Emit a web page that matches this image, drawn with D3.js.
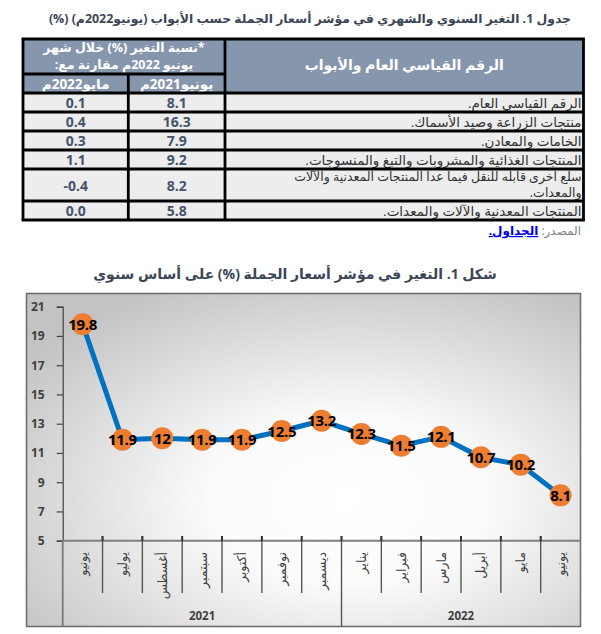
<!DOCTYPE html>
<html><head><meta charset="utf-8">
<script src="https://cdn.jsdelivr.net/npm/d3@7"></script>
<style>
html,body{margin:0;padding:0;background:#fff;}
svg{display:block;font-family:"Open Sans","DejaVu Sans",sans-serif;}
</style></head>
<body>
<script>
// ---------- DATA ----------
const tableTitle = "جدول 1. التغير السنوي والشهري في مؤشر أسعار الجملة حسب الأبواب (يونيو2022م) (%)";
const headerMain = "الرقم القياسي العام والأبواب";
const headerChange = ["*نسبة التغير (%) خلال شهر", "يونيو 2022م مقارنة مع:"];
const headerCols = ["يونيو2021م", "مايو2022م"];
const rowLabels = [
  ["الرقم القياسي العام."],
  ["منتجات الزراعة وصيد الأسماك."],
  ["الخامات والمعادن."],
  ["المنتجات الغذائية والمشروبات والتبغ والمنسوجات."],
  ["سلع اخرى قابله للنقل فيما عدا المنتجات المعدنية والآلات", "والمعدات."],
  ["المنتجات المعدنية والآلات والمعدات."]
];
const vsJun2021 = ["8.1", "16.3", "7.9", "9.2", "8.2", "5.8"];
const vsMay2022 = ["0.1", "0.4", "0.3", "1.1", "-0.4", "0.0"];
const sourceLabel = "المصدر:";
const sourceLink = "الجداول.";

const chartTitle = "شكل 1. التغير في مؤشر أسعار الجملة (%) على أساس سنوي";
const months = ["يونيو","يوليو","أغسطس","سبتمبر","أكتوبر","نوفمبر","ديسمبر","يناير","فبراير","مارس","أبريل","مايو","يونيو"];
const values = [19.8, 11.9, 12, 11.9, 11.9, 12.5, 13.2, 12.3, 11.5, 12.1, 10.7, 10.2, 8.1];
const years = ["2021", "2022"];
const yearCounts = [7, 6];
const yTicks = [5, 7, 9, 11, 13, 15, 17, 19, 21];

// ---------- DRAW ----------
const W = 601, H = 634;
const svg = d3.select("body").append("svg").attr("width", W).attr("height", H);
const titleColor = "#3b4657";

// Table title
svg.append("text").attr("x", 571).attr("y", 23).attr("direction", "rtl")
  .attr("text-anchor", "start").attr("font-size", 12.4).attr("font-weight", "bold")
  .attr("fill", titleColor).text(tableTitle);

// Table geometry
const tL = 23, tR = 583.5, cA = 128.3, cB = 225;
const tTop = 39, h1 = 74, h2 = 93;
const lineH = 19, extraLine = 13;
const rowTops = [];
let yy = h2;
rowLabels.forEach(r => { rowTops.push(yy); yy += lineH + (r.length - 1) * extraLine; });
const tBot = yy;

const tg = svg.append("g");
tg.append("rect").attr("x", tL).attr("y", tTop).attr("width", tR - tL).attr("height", h2 - tTop).attr("fill", "#8696ad");
tg.append("rect").attr("x", tL).attr("y", h2).attr("width", tR - tL).attr("height", tBot - h2).attr("fill", "#ededed");

// header text
tg.append("text").attr("x", (cB + tR) / 2).attr("y", 70).attr("text-anchor", "middle").attr("direction", "rtl")
  .attr("font-size", 14).attr("font-weight", "bold").attr("fill", "#fff").text(headerMain);
headerChange.forEach((t, i) => {
  tg.append("text").attr("x", (tL + cB) / 2).attr("y", 51.5 + i * 17).attr("text-anchor", "middle").attr("direction", "rtl")
    .attr("font-size", 12.5).attr("font-weight", "bold").attr("fill", "#fff").text(t);
});
[[cA, cB], [tL, cA]].forEach((c, i) => {
  tg.append("text").attr("x", (c[0] + c[1]) / 2).attr("y", 88.5).attr("text-anchor", "middle").attr("direction", "rtl")
    .attr("font-size", 13.5).attr("font-weight", "bold").attr("fill", "#fff").text(headerCols[i]);
});

// body rows
rowLabels.forEach((lines, i) => {
  const top = rowTops[i];
  const hgt = lineH + (lines.length - 1) * extraLine;
  lines.forEach((t, j) => {
    tg.append("text").attr("x", tR - 2).attr("y", top + (lines.length > 1 ? 12 : 14.5) + j * 16).attr("direction", "rtl")
      .attr("text-anchor", "start").attr("font-size", lines.length > 1 ? 12.5 : 13.5).attr("fill", "#333").text(t);
  });
  tg.append("text").attr("x", (cA + cB) / 2).attr("y", top + hgt / 2 + 5.5).attr("text-anchor", "middle")
    .attr("font-size", 14).attr("font-weight", "bold").attr("fill", "#44546a").text(vsJun2021[i]);
  tg.append("text").attr("x", (tL + cA) / 2).attr("y", top + hgt / 2 + 5.5).attr("text-anchor", "middle")
    .attr("font-size", 14).attr("font-weight", "bold").attr("fill", "#44546a").text(vsMay2022[i]);
});

// table borders
const bw = 2.8;
const hl = (x1, x2, y) => tg.append("line").attr("x1", x1).attr("x2", x2).attr("y1", y).attr("y2", y).attr("stroke", "#000").attr("stroke-width", bw);
const vl = (x, y1, y2) => tg.append("line").attr("x1", x).attr("x2", x).attr("y1", y1).attr("y2", y2).attr("stroke", "#000").attr("stroke-width", bw);
hl(tL - bw / 2, tR + bw / 2, tTop);
hl(tL, cB, h1);
hl(tL, tR, h2);
rowTops.slice(1).forEach(t => hl(tL, tR, t));
hl(tL - bw / 2, tR + bw / 2, tBot);
vl(tL, tTop, tBot); vl(tR, tTop, tBot); vl(cB, tTop, tBot); vl(cA, h1, tBot);

// source
const src = svg.append("text").attr("x", 581).attr("y", 235).attr("direction", "rtl").attr("text-anchor", "start")
  .attr("font-size", 12);
src.append("tspan").attr("fill", "#7f7f7f").text(sourceLabel + " ");
src.append("tspan").attr("fill", "#0000ee").attr("font-weight", "bold").attr("text-decoration", "underline").text(sourceLink);

// Chart title
svg.append("text").attr("x", 295).attr("y", 279).attr("text-anchor", "middle").attr("direction", "rtl")
  .attr("font-size", 14).attr("font-weight", "bold").attr("fill", titleColor).text(chartTitle);

// Chart box with gradient
const defs = svg.append("defs");
const grad = defs.append("radialGradient").attr("id", "bg").attr("cx", 0.58).attr("cy", 0.62).attr("r", 0.72);
grad.append("stop").attr("offset", "0%").attr("stop-color", "#ffffff");
grad.append("stop").attr("offset", "35%").attr("stop-color", "#fbfbfb");
grad.append("stop").attr("offset", "100%").attr("stop-color", "#c3c3c3");
const bx0 = 26.5, by0 = 293.5, bx1 = 580.5, by1 = 626.5;
svg.append("rect").attr("x", bx0).attr("y", by0).attr("width", bx1 - bx0).attr("height", by1 - by0)
  .attr("fill", "url(#bg)").attr("stroke", "#6f6f6f").attr("stroke-width", 1.6);

// scales
const x = d3.scaleBand().domain(d3.range(months.length)).range([62.7, 580.5]);
const y = d3.scaleLinear().domain([5, 21]).range([540.7, 306.7]);

// y axis
const yAxis = d3.axisLeft(y).tickValues(yTicks).tickSize(6).tickPadding(12).tickFormat(d3.format("d"));
const gy = svg.append("g").attr("transform", "translate(62.7,0)").call(yAxis);
gy.select(".domain").attr("stroke", "#404040").attr("stroke-width", 1.2);
gy.selectAll(".tick line").attr("stroke", "#404040").attr("stroke-width", 1.2);
gy.selectAll(".tick text").attr("font-size", 12).attr("font-weight", "bold").attr("fill", "#404040")
  .attr("font-family", "'Open Sans',sans-serif");
svg.append("line").attr("x1", 62.7).attr("x2", 62.7).attr("y1", 540.7).attr("y2", by1)
  .attr("stroke", "#7a7a7a").attr("stroke-width", 1.8);

// x axis line
svg.append("line").attr("x1", 62.7).attr("x2", bx1).attr("y1", 540.7).attr("y2", 540.7)
  .attr("stroke", "#808080").attr("stroke-width", 2);
// category separators
const bwid = x.bandwidth();
let acc = 0; const groupEdges = [];
yearCounts.forEach(c => { acc += c; groupEdges.push(acc); });
d3.range(1, months.length).forEach(k => {
  const xx = x.range()[0] + k * bwid;
  const isGroup = groupEdges.includes(k);
  svg.append("line").attr("x1", xx).attr("x2", xx).attr("y1", 536).attr("y2", isGroup ? by1 : 593)
    .attr("stroke", "#555").attr("stroke-width", 1.4);
  svg.append("line").attr("x1", xx).attr("x2", xx).attr("y1", 536).attr("y2", 541)
    .attr("stroke", "#333").attr("stroke-width", 2);
});

// month labels
months.forEach((m, i) => {
  const cx = x(i) + bwid / 2;
  svg.append("text").attr("transform", `translate(${cx + 4.5},552) rotate(-90)`)
    .attr("direction", "rtl").attr("text-anchor", "start").attr("font-size", 12.5)
    .attr("fill", "#404040").text(m);
});
// year labels
let start = 0;
years.forEach((yr, i) => {
  const x0 = x.range()[0] + start * bwid, x1 = x0 + yearCounts[i] * bwid;
  svg.append("text").attr("x", (x0 + x1) / 2).attr("y", 620).attr("text-anchor", "middle")
    .attr("font-size", 11.5).attr("font-weight", "bold").attr("fill", "#404040").text(yr);
  start += yearCounts[i];
});

// line
const line = d3.line().x((d, i) => x(i) + bwid / 2).y(d => y(d));
svg.append("path").datum(values).attr("d", line).attr("fill", "none")
  .attr("stroke", "#0070c0").attr("stroke-width", 5).attr("stroke-linejoin", "round");
svg.selectAll("circle.pt").data(values).join("circle").attr("class", "pt")
  .attr("cx", (d, i) => x(i) + bwid / 2).attr("cy", d => y(d)).attr("r", 11).attr("fill", "#ed7d31");
svg.selectAll("text.lbl").data(values).join("text").attr("class", "lbl")
  .attr("x", (d, i) => x(i) + bwid / 2).attr("y", d => y(d) + 5.5).attr("text-anchor", "middle")
  .attr("font-size", 15).attr("font-weight", "bold").attr("fill", "#000")
  .attr("font-family", "'Open Sans',sans-serif").attr("letter-spacing", -0.3)
  .text(d => d);
</script>
</body></html>
